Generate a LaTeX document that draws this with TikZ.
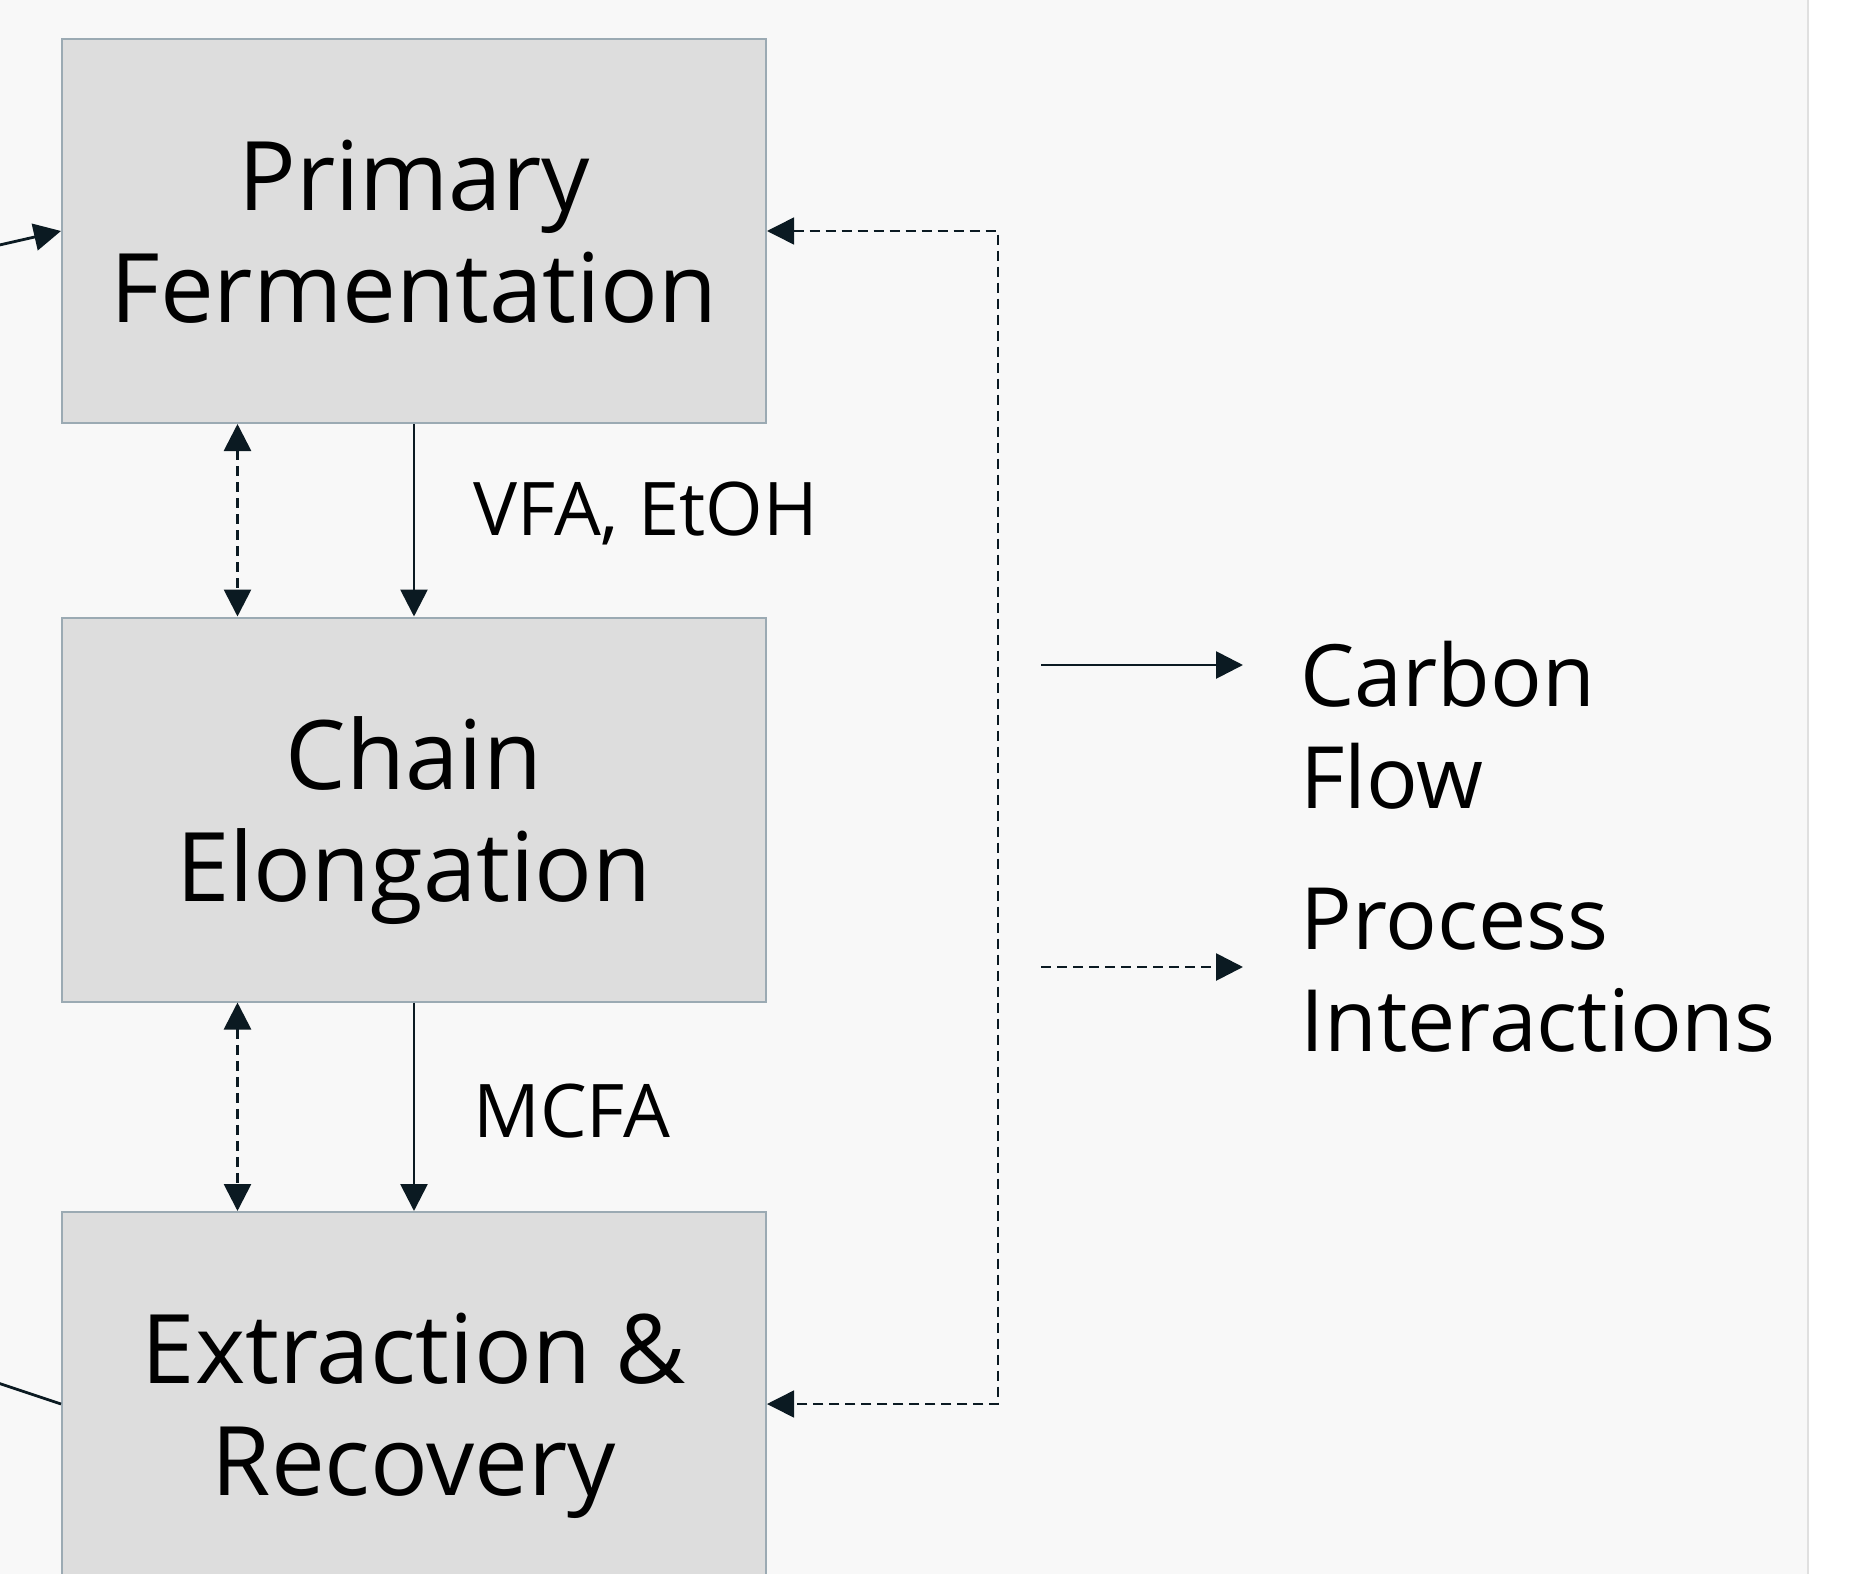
\documentclass[tikz,border=0pt]{standalone}
\usepackage{fontspec}
\setmainfont{Open Sans}
\usetikzlibrary{arrows.meta,calc}

\definecolor{boxfill}{HTML}{DDDDDD}
\definecolor{boxline}{HTML}{9BAAB3}
\definecolor{ink}{HTML}{0B1A22}
\definecolor{paper}{HTML}{F8F8F8}
\definecolor{rim}{HTML}{E0E0E0}

\tikzset{
  >={Triangle[length=13.5pt,width=13.5pt]},
  stage/.style={rectangle, draw=boxline, fill=boxfill, line width=1pt,
    minimum width=352pt, minimum height=192pt, inner sep=0pt,
    align=center, text depth=0pt, font=\fontsize{48}{56}\selectfont},
  flow/.style={draw=ink, line width=1.4pt, ->},
  interact/.style={draw=ink, line width=1.4pt, dash pattern=on 5pt off 3pt, ->},
  tag/.style={inner sep=0pt, font=\fontsize{37}{44}\selectfont},
  key/.style={inner sep=0pt, align=left, text depth=0pt, font=\fontsize{43}{51}\selectfont}
}

\begin{document}
\begin{tikzpicture}[x=0.5pt, y=-0.5pt]
\useasboundingbox (0,0) rectangle (1849,1574);
\clip (0,0) rectangle (1849,1574);
\fill[paper] (0,0) rectangle (1808,1574);
\draw[rim, line width=1.25pt] (1808,0) -- (1808,1574);

\path (414,231) node[stage](prim){Primary\\Fermentation}
    (414,809.5) node[stage](chain){Chain\\Elongation}
    (414,1404) node[stage](ext){Extraction \&\\Recovery};

\coordinate (src) at (-62,259);
\coordinate (sink) at (-62,1363);
\coordinate (loop) at (998,231);

\draw[flow] (src) -- (prim.west);
\draw[ink, line width=1.4pt] (ext.west) -- (sink);

\draw[flow] (prim.south) -- (chain.north);
\draw[flow] (chain.south) -- (ext.north);
\draw[interact, <->] ($(prim.south west)!0.25!(prim.south east)$) -- ($(chain.north west)!0.25!(chain.north east)$);
\draw[interact, <->] ($(chain.south west)!0.25!(chain.south east)$) -- ($(ext.north west)!0.25!(ext.north east)$);
\draw[interact, line width=0.75pt, <->] (prim.east) -- (loop) |- (ext.east);

\node[tag, anchor=base west] (vfa) at (473,535) {VFA, EtOH};
\node[tag, anchor=base west] (mcfa) at (473,1137) {MCFA};

% legend
\coordinate (k1) at (1041,665);
\coordinate (k2) at (1243,665);
\coordinate (k3) at (1041,967);
\coordinate (k4) at (1243,967);
\draw[flow] (k1) -- (k2);
\draw[interact] (k3) -- (k4);
\node[key, anchor=west] (carbon) at (1300,724.5) {Carbon\\Flow};
\node[key, anchor=west] (process) at (1300,970) {Process\\Interactions};
\end{tikzpicture}
\end{document}
